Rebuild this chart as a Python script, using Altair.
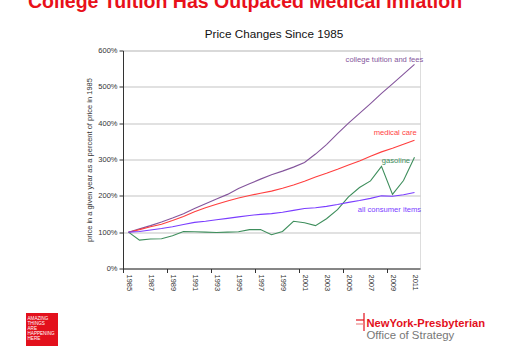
import altair as alt
import pandas as pd

years = list(range(1985, 2012))
tuition = [100, 109, 118, 128, 139, 151, 165, 178, 191, 204, 220, 233, 246, 258,
           268, 279, 292, 315, 341, 371, 400, 427, 454, 482, 508, 535, 562]
medical = [100, 107, 115, 122, 132, 143, 156, 167, 177, 186, 194, 201, 207, 213,
           221, 230, 240, 252, 262, 273, 285, 296, 309, 321, 331, 342, 353]
gasoline = [100, 78, 81, 82, 90, 102, 101, 100, 99, 100, 101, 107, 107, 93,
            102, 130, 126, 118, 137, 162, 197, 223, 241, 281, 204, 242, 306]
all_items = [100, 102, 106, 110, 115, 121, 127, 130, 134, 138, 142, 146, 149, 151,
             155, 160, 165, 167, 171, 176, 182, 187, 193, 200, 199, 203, 209]

series_names = ["college tuition and fees", "medical care", "gasoline", "all consumer items"]
series_colors = ["#84559c", "#ff3f3f", "#3e8e5c", "#7a3dff"]
# label anchor (year, value) for right-aligned series labels
label_year = [2011.8, 2011.2, 2010.6, 2011.6]
label_value = [574, 373, 295, 160]

year_labels = list(range(1985, 2012, 2))
y_ticks = [0, 100, 200, 300, 400, 500, 600]

rows = []
for name, vals in zip(series_names, [tuition, medical, gasoline, all_items]):
    for yr, v in zip(years, vals):
        rows.append({"series": name, "year": yr, "value": v})
df = pd.DataFrame(rows)
lab_df = pd.DataFrame({"series": series_names, "year": label_year, "value": label_value})
yl_df = pd.DataFrame({"year": year_labels, "lbl": [str(y) for y in year_labels]})

W, H = 297, 218
OX, OY = 123, 50.5
FONT = "Liberation Sans"

xscale = alt.Scale(domain=[1984.5, 2011.5], nice=False, zero=False)
yscale = alt.Scale(domain=[0, 600], nice=False)
color = alt.Color("series:N", scale=alt.Scale(domain=series_names, range=series_colors), legend=None)

lines = alt.Chart(df).mark_line(strokeWidth=1.1).encode(
    x=alt.X("year:Q", scale=xscale,
            axis=alt.Axis(values=[1984.5 + k for k in range(28)], labels=False, ticks=True,
                          tickSize=4, tickColor="#333", domainColor="#333", grid=False, title=None)),
    y=alt.Y("value:Q", scale=yscale,
            axis=alt.Axis(values=y_ticks, tickCount=7, labelOverlap=False,
                          labelExpr="datum.value + '%'", labelFontSize=7.5,
                          labelColor="#333", labelFont=FONT, tickSize=4, tickColor="#333",
                          domainColor="#333", labelPadding=2, gridColor="#c4c4c4", gridWidth=1.2,
                          title="price in a given year as a percent of price in 1985",
                          titleFontSize=7.5, titleFontWeight="normal", titleColor="#333",
                          titleFont=FONT, titlePadding=4)),
    color=color,
)

series_labels = alt.Chart(lab_df).mark_text(align="right", baseline="middle", fontSize=7.6, font=FONT).encode(
    x=alt.X("year:Q", scale=xscale),
    y=alt.Y("value:Q", scale=yscale),
    text="series:N",
    color=color,
)

xlabels = alt.Chart(yl_df).mark_text(angle=90, align="left", baseline="middle", fontSize=7.5,
                                     font=FONT, color="#333").encode(
    x=alt.X("year:Q", scale=xscale),
    y=alt.value(H + 6),
    text="lbl:N",
)


def deco(text, x, y, **kw):
    return alt.Chart(pd.DataFrame({"t": [text]})).mark_text(font=FONT, align="left", **kw).encode(
        x=alt.value(x - OX), y=alt.value(y - OY), text="t:N")


header = deco("College Tuition Has Outpaced Medical Inflation", 28, 8, fontSize=19.5,
              fontWeight="bold", color="#e8101a", baseline="alphabetic")
subtitle = alt.Chart(pd.DataFrame({"t": ["Price Changes Since 1985"]})).mark_text(
    font=FONT, align="center", baseline="alphabetic", fontSize=11.7, color="#111").encode(
    x=alt.value(274 - OX), y=alt.value(38 - OY), text="t:N")

logo_box = alt.Chart(pd.DataFrame({"a": [0]})).mark_rect(color="#e3101c").encode(
    x=alt.value(26 - OX), x2=alt.value(58 - OX), y=alt.value(313 - OY), y2=alt.value(346 - OY))
logo_lines = [deco(t, 27.5, 318.5 + i * 5.2, fontSize=4.6, color="white", baseline="middle")
              for i, t in enumerate(["AMAZING", "THINGS", "ARE", "HAPPENING", "HERE"])]

nyp = deco("NewYork-Presbyterian", 366.5, 326.5, fontSize=11.2, fontWeight="bold",
           color="#e3101c", baseline="alphabetic")
office = deco("Office of Strategy", 366.5, 339, fontSize=11.4, color="#777", baseline="alphabetic")
mark_v = alt.Chart(pd.DataFrame({"a": [0]})).mark_rule(color="#e3101c", strokeWidth=1.2).encode(
    x=alt.value(364 - OX), y=alt.value(313 - OY), y2=alt.value(331 - OY))
mark_h1 = alt.Chart(pd.DataFrame({"a": [0]})).mark_rule(color="#e3101c", strokeWidth=1.2).encode(
    x=alt.value(356 - OX), x2=alt.value(364 - OX), y=alt.value(320 - OY))
mark_h2 = alt.Chart(pd.DataFrame({"a": [0]})).mark_rule(color="#e88", strokeWidth=1.2).encode(
    x=alt.value(356 - OX), x2=alt.value(364 - OX), y=alt.value(324 - OY))

chart = alt.layer(
    lines, series_labels, xlabels, header, subtitle, logo_box, *logo_lines, nyp, office,
    mark_v, mark_h1, mark_h2
).properties(
    width=W, height=H,
    padding={"left": OX, "top": OY, "right": 529 - OX - W, "bottom": 353 - OY - H},
    autosize=alt.AutoSizeParams(type="none"),
    background="white",
).configure_view(stroke=None).configure(font=FONT)

chart.save("out.html", embed_options={"renderer": "svg", "actions": False})
